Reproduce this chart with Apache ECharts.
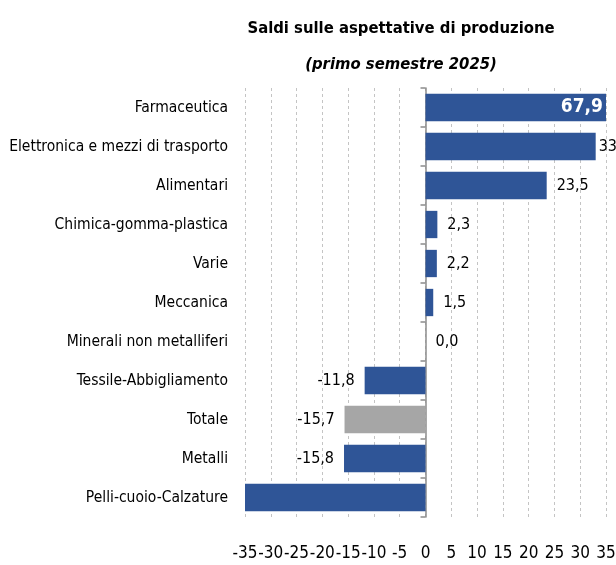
<!DOCTYPE html>
<html>
<head>
<meta charset="utf-8">
<script src="https://cdn.jsdelivr.net/npm/echarts@6/dist/echarts.min.js"></script>
<style>
html,body{margin:0;padding:0;background:#fff;}
#chart{width:616px;height:565px;}
</style>
</head>
<body>
<div id="chart"></div>
<script>
// Sectors, top to bottom
const sectors = [
  'Farmaceutica',
  'Elettronica e mezzi di trasporto',
  'Alimentari',
  'Chimica-gomma-plastica',
  'Varie',
  'Meccanica',
  'Minerali non metalliferi',
  'Tessile-Abbigliamento',
  'Totale',
  'Metalli',
  'Pelli-cuoio-Calzature'
];
// Balance of production expectations (percentage points)
const saldi = [67.9, 33.0, 23.5, 2.3, 2.2, 1.5, 0.0, -11.8, -15.7, -15.8, -38.5];
// Sectors whose value label is not printed
const hiddenLabels = ['Pelli-cuoio-Calzature'];
const totalLabel = 'Totale';
const axisMin = -35, axisMax = 35, axisStep = 5;

const FONT = '"Liberation Sans Narrow", "DejaVu Sans Condensed", sans-serif';
const BLUE = '#2F5597', GREY = '#A6A6A6';

const fmt = v => v.toFixed(1).replace('.', ',');

const data = saldi.map((v, i) => {
  const name = sectors[i];
  const item = {
    value: v,
    itemStyle: { color: name === totalLabel ? GREY : BLUE }
  };
  if (hiddenLabels.includes(name)) {
    item.label = { show: false };
  } else if (v > axisMax) {
    // bar runs past the axis end: value written inside, in white
    item.label = {
      show: true, position: 'insideRight', color: '#fff',
      fontWeight: 'bold', fontSize: 19, distance: 3
    };
  } else if (v > axisMax - axisStep) {
    // little room left near the axis end
    item.label = { distance: 3 };
  } else if (v < 0) {
    item.label = { position: 'left' };
  }
  return item;
});

const chart = echarts.init(document.getElementById('chart'));
chart.setOption({
  animation: false,
  backgroundColor: '#fff',
  title: {
    text: 'Saldi sulle aspettative di produzione',
    subtext: '(primo semestre 2025)',
    left: 396, textAlign: 'center', top: 15,
    itemGap: 19,
    textStyle: { fontFamily: FONT, fontSize: 16.5, fontWeight: 'bold', color: '#000' },
    subtextStyle: { fontFamily: FONT, fontSize: 16.5, fontWeight: 'bold', fontStyle: 'italic', color: '#000' }
  },
  grid: { left: 245, right: 10, top: 88, bottom: 48, containLabel: false, outerBoundsMode: 'none' },
  xAxis: {
    type: 'value', min: axisMin, max: axisMax, interval: axisStep,
    axisLine: { show: false }, axisTick: { show: false },
    axisLabel: {
      margin: 28, fontFamily: FONT, fontSize: 17, color: '#000',
      showMinLabel: true, showMaxLabel: true, hideOverlap: false
    },
    splitLine: { show: true, lineStyle: { type: [3, 3], color: '#C4C4C4', width: 1 } }
  },
  yAxis: [
    {
      type: 'category', data: sectors, inverse: true,
      axisLine: { show: false, onZero: false }, axisTick: { show: false },
      axisLabel: { margin: 17, fontFamily: FONT, fontSize: 15.5, color: '#000' }
    },
    {
      type: 'category', data: sectors, inverse: true, position: 'left',
      axisLine: { show: true, onZero: true, onZeroAxisIndex: 0, lineStyle: { color: '#8C8C8C', width: 1.5 } },
      axisTick: { show: true, length: 5, lineStyle: { color: '#8C8C8C', width: 1.5 } },
      axisLabel: { show: false }
    }
  ],
  series: [{
    type: 'bar', yAxisIndex: 0, data: data,
    barCategoryGap: '30%', clip: true,
    label: {
      show: true, position: 'right', distance: 10,
      fontFamily: FONT, fontSize: 16, color: '#000',
      formatter: p => fmt(p.value)
    }
  }]
});
</script>
</body>
</html>
